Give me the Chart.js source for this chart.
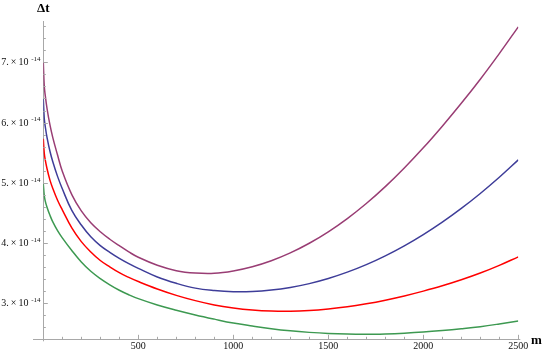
<!DOCTYPE html>
<html>
<head>
<meta charset="utf-8">
<script src="https://cdn.jsdelivr.net/npm/chart.js@4/dist/chart.umd.min.js"></script>
<style>
html,body{margin:0;padding:0;background:#fff;}
#wrap{width:545px;height:354px;position:relative;}
</style>
</head>
<body>
<div id="wrap"><canvas id="c" width="545" height="354"></canvas></div>
<script>
// m values (x) and Δt values in units of 1e-14
const mValues = [0,5,10,20,35,50,75,100,150,200,250,300,350,400,450,500,600,700,800,900,1000,1100,1200,1300,1400,1500,1600,1700,1800,1900,2000,2100,2200,2300,2400,2500];
const purpleSeries = [7.00,6.61,6.455,6.225,5.96,5.75,5.46,5.19,4.803,4.532,4.336,4.186,4.062,3.954,3.852,3.762,3.63,3.54,3.50,3.495,3.535,3.605,3.705,3.835,3.995,4.185,4.405,4.655,4.935,5.245,5.58,5.94,6.32,6.72,7.145,7.59];
const blueSeries   = [6.39,6.07,5.94,5.745,5.523,5.35,5.106,4.90,4.54,4.298,4.103,3.957,3.845,3.745,3.657,3.578,3.435,3.33,3.25,3.21,3.19,3.193,3.217,3.261,3.325,3.41,3.515,3.64,3.786,3.952,4.139,4.346,4.574,4.822,5.091,5.38];
const redSeries    = [5.73,5.494,5.385,5.229,5.044,4.906,4.71,4.55,4.25,4.022,3.851,3.709,3.602,3.506,3.428,3.359,3.236,3.13,3.042,2.97,2.92,2.886,2.868,2.865,2.878,2.904,2.94,2.99,3.05,3.12,3.20,3.288,3.388,3.50,3.628,3.77];
const greenSeries  = [4.98,4.79,4.70,4.59,4.46,4.35,4.205,4.085,3.875,3.685,3.53,3.408,3.305,3.215,3.14,3.075,2.97,2.883,2.805,2.735,2.67,2.62,2.575,2.54,2.515,2.497,2.487,2.484,2.49,2.502,2.52,2.545,2.575,2.61,2.655,2.705];
const xTickValues = [500,1000,1500,2000,2500];
const yTickValues = [3,4,5,6,7];
const yExponent = '-14';
const xTitle = 'm';
const yTitle = 'Δt';

const AXIS_COLOR = '#a8a8a8';
const FONT = '"Liberation Serif", "Times New Roman", serif';
const toPts = s => mValues.map((m,i)=>({x:m,y:s[i]}));
const mk = (s,color) => ({data: toPts(s), borderColor: color, borderWidth: 1.5, pointRadius: 0, fill: false, tension: 0.4});

const axisPlugin = {
  id: 'mmaAxes',
  afterDraw(chart) {
    const ctx = chart.ctx;
    const xs = chart.scales.x, ys = chart.scales.y;
    const a = chart.chartArea;
    ctx.save();
    ctx.strokeStyle = AXIS_COLOR;
    ctx.lineWidth = 1;
    ctx.beginPath();
    ctx.moveTo(33, Math.round(a.bottom)+0.5); ctx.lineTo(a.left, Math.round(a.bottom)+0.5);
    ctx.moveTo(a.right, Math.round(a.bottom)+0.5); ctx.lineTo(a.right+2, Math.round(a.bottom)+0.5);
    ctx.moveTo(Math.round(a.left)+0.5, a.bottom); ctx.lineTo(Math.round(a.left)+0.5, a.bottom+2);
    ctx.stroke();
    ctx.beginPath();
    for (let v = 100; v <= 2500; v += 100) {
      const px = Math.round(xs.getPixelForValue(v))+0.5;
      const len = (v % 500 === 0) ? 4.5 : 2.5;
      ctx.moveTo(px, a.bottom); ctx.lineTo(px, a.bottom - len);
    }
    for (let k = 12; k <= 38; k++) {
      const v = k/5;
      if (v < ys.min || v > ys.max) continue;
      const py = Math.round(ys.getPixelForValue(v))+0.5;
      const len = (k % 5 === 0) ? 4.5 : 2.5;
      ctx.moveTo(a.left, py); ctx.lineTo(a.left + len, py);
    }
    ctx.stroke();
    ctx.fillStyle = '#111';
    ctx.textBaseline = 'middle';
    ctx.textAlign = 'center';
    ctx.font = '10px ' + FONT;
    xTickValues.forEach(v => {
      ctx.fillText(String(v), xs.getPixelForValue(v), 346.5);
    });
    ctx.textAlign = 'right';
    yTickValues.forEach(v => {
      const py = ys.getPixelForValue(v);
      ctx.font = '10px ' + FONT;
      ctx.fillText(v + '.\u2009×\u200910', 28.5, py + 0.5);
      ctx.font = '7px ' + FONT;
      ctx.fillText(yExponent, 40.5, py - 3);
    });
    ctx.fillStyle = '#000';
    ctx.font = 'bold 13px ' + FONT;
    ctx.textAlign = 'center';
    ctx.fillText(yTitle, a.left, 9);
    ctx.textAlign = 'left';
    ctx.fillText(xTitle, 531, a.bottom + 1);
    ctx.restore();
  }
};

new Chart(document.getElementById('c'), {
  type: 'line',
  data: { datasets: [mk(greenSeries,'rgb(61,153,81)'), mk(redSeries,'rgb(255,0,0)'), mk(blueSeries,'rgb(62,61,153)'), mk(purpleSeries,'rgb(153,61,116)')] },
  options: {
    responsive: false,
    animation: false,
    events: [],
    layout: { padding: { top: 21.4, right: 26.7, left: 0, bottom: 0 } },
    plugins: { legend: { display: false }, tooltip: { enabled: false } },
    scales: {
      x: {
        type: 'linear', min: 0, max: 2500,
        grid: { display: false },
        border: { display: true, color: AXIS_COLOR, width: 1 },
        afterFit: s => { s.height = 14.7; },
        afterBuildTicks: s => { s.ticks = xTickValues.map(v => ({value: v})); },
        ticks: { display: false }
      },
      y: {
        type: 'linear', min: 2.4, max: 7.68,
        grid: { display: false },
        border: { display: true, color: AXIS_COLOR, width: 1 },
        afterFit: s => { s.width = 43.3; },
        afterBuildTicks: s => { s.ticks = yTickValues.map(v => ({value: v})); },
        ticks: { display: false }
      }
    }
  },
  plugins: [axisPlugin]
});
</script>
</body>
</html>
